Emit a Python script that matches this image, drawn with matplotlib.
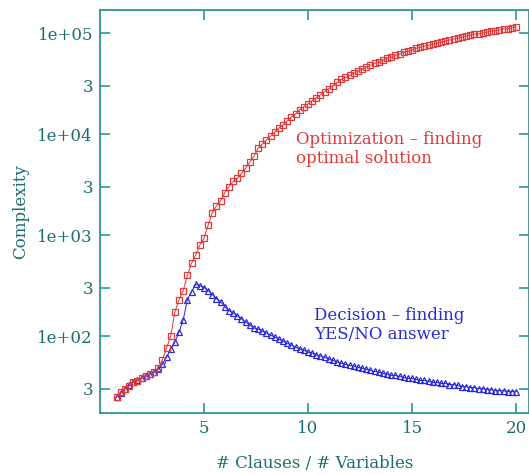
import numpy as np
import matplotlib
matplotlib.use("Agg")
import matplotlib.pyplot as plt

# clause-to-variable ratio, sampled every 0.2
ratio = np.round(np.arange(0.8, 20.05, 0.2), 1)

# optimization (finding the optimal solution)
optimization = [
    25, 28, 30, 32, 35, 36, 38, 40, 42, 44,
    48, 58, 76, 100, 174, 229, 282, 398, 525, 631,
    794, 933, 1260, 1660, 1950, 2190, 2630, 3020, 3390, 3630,
    4070, 4570, 5250, 6030, 7240, 7940, 8710, 9550, 10500, 11500,
    12300, 13500, 14800, 15800, 17400, 18600, 20000, 21400, 22900, 24500,
    26300, 28200, 30200, 32400, 34700, 36300, 38000, 39800, 41700, 43700,
    45700, 47900, 50100, 51300, 53700, 56200, 57500, 60300, 61700, 64600,
    66100, 67600, 70800, 72400, 74100, 75900, 77600, 79400, 81300, 83200,
    85100, 87100, 89100, 91200, 93300, 95500, 97700, 97700, 100000, 102000,
    105000, 105000, 107000, 110000, 110000, 112000, 115000,
]

# decision (YES/NO answer)
decision = [
    25, 27.5, 30, 32.4, 34.7, 36.3, 38, 39.8, 41.7, 43.7,
    46.8, 52.5, 61.7, 74.1, 87.1, 110, 145, 229, 275, 324,
    316, 302, 282, 257, 234, 219, 195, 178, 170, 158,
    148, 138, 129, 120, 117, 112, 107, 102, 97.7, 93.3,
    89.1, 85.1, 81.3, 77.6, 74.1, 72.4, 69.2, 67.6, 64.6, 63.1,
    61.7, 58.9, 57.5, 55.0, 53.7, 52.5, 51.3, 50.1, 49.0, 47.9,
    46.8, 45.7, 44.7, 43.7, 42.7, 41.7, 40.7, 40.7, 39.8, 38.9,
    38.0, 38.0, 37.2, 36.3, 36.3, 35.5, 34.7, 34.7, 33.9, 33.9,
    33.1, 33.1, 32.4, 31.6, 31.6, 30.9, 30.9, 30.2, 30.2, 29.5,
    29.5, 28.8, 28.8, 28.8, 28.2, 28.2, 28.2,
]

yticks = [30, 100, 300, 1000, 3000, 1e4, 3e4, 1e5]
ytick_labels = ['3', '1e+02', '3', '1e+03', '3', '1e+04', '3', '1e+05']
xticks = [5, 10, 15, 20]

axis_col = '#2a9898'
text_col = '#1c6e6e'
red = '#e03a3a'
blue = '#2a2ad8'

plt.rcParams['font.family'] = ['DejaVu Serif']

fig = plt.figure(figsize=(5.29, 4.75), dpi=100)
ax = fig.add_axes([100 / 529, 62 / 475, 428.5 / 529, 403 / 475])

ax.plot(ratio, decision, color=blue, lw=0.7, marker='^', ms=5,
        mfc='none', mec=blue, mew=0.9)
ax.plot(ratio, optimization, color=red, lw=0.7, marker='s', ms=4.6,
        mfc='none', mec=red, mew=0.9)

ax.set_yscale('log')
ax.set_xlim(0, 20.6)
ax.set_ylim(17.3, 1.69e5)

ax.set_yticks(yticks)
ax.set_yticklabels(ytick_labels)
ax.yaxis.set_minor_locator(matplotlib.ticker.NullLocator())
ax.set_xticks(xticks)
ax.set_xticklabels([str(t) for t in xticks])

for s in ax.spines.values():
    s.set_color(axis_col)
    s.set_linewidth(1.3)
ax.tick_params(direction='in', length=7.5, width=1.2, color=axis_col,
               labelcolor=text_col, labelsize=12, top=True, right=True,
               pad=5)

ax.set_ylabel('Complexity', color=text_col, fontsize=12, labelpad=6)
ax.set_xlabel('# Clauses / # Variables', color=text_col, fontsize=12,
              labelpad=13)

ax.text(9.4, 7100, 'Optimization \u2013 finding\noptimal solution',
        color=red, fontsize=12, va='center', ha='left', linespacing=1.15)
ax.text(10.3, 128, 'Decision \u2013 finding\nYES/NO answer',
        color=blue, fontsize=12, va='center', ha='left', linespacing=1.15)

fig.savefig('out.png', dpi=100)
